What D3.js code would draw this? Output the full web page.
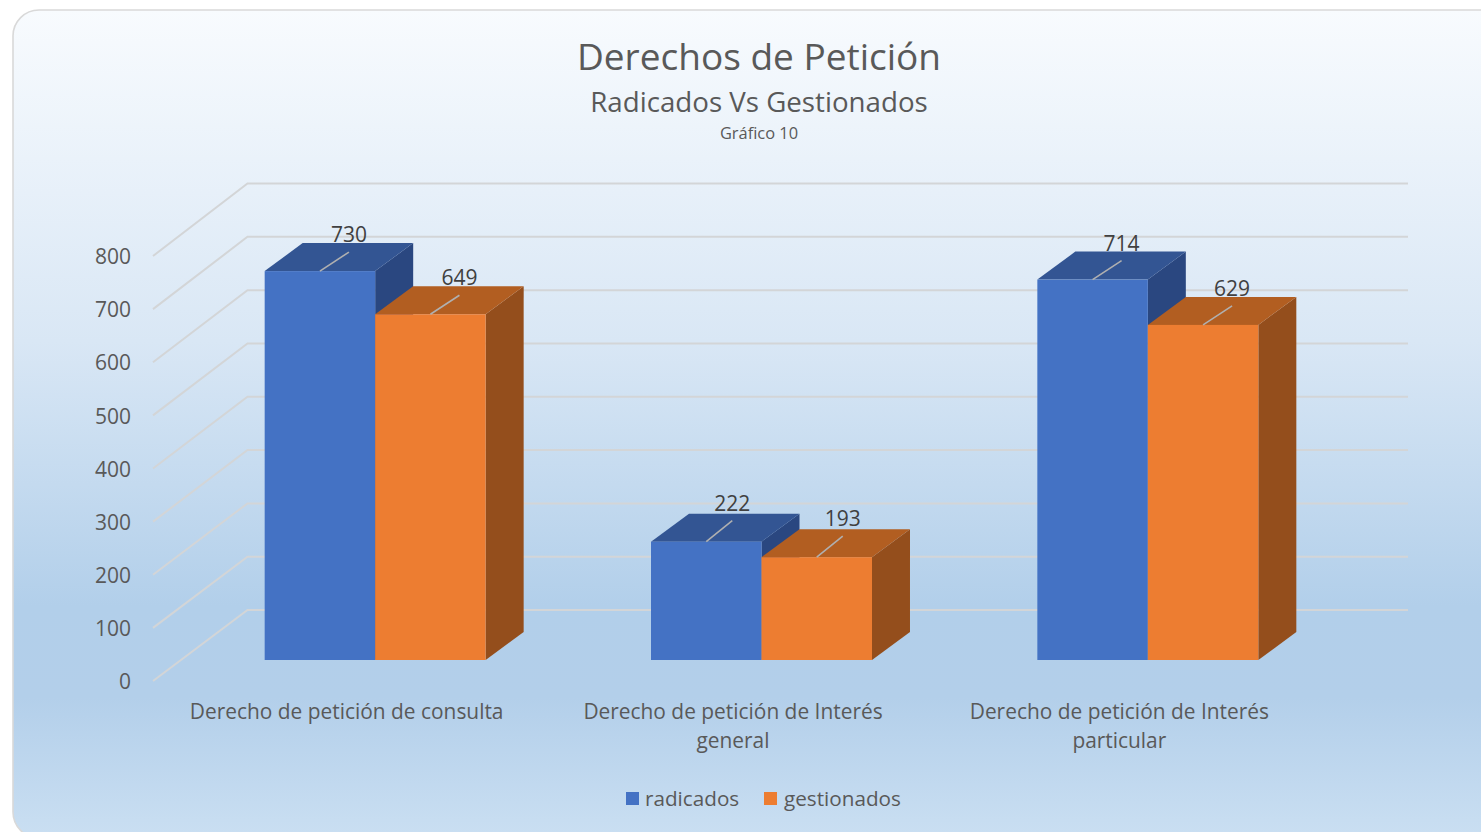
<!DOCTYPE html>
<html><head><meta charset="utf-8">
<script src="https://cdn.jsdelivr.net/npm/d3@7/dist/d3.min.js"></script>
<style>html,body{margin:0;padding:0;background:#fff;overflow:hidden}svg{display:block}text{font-family:"Open Sans","Noto Sans",sans-serif}</style>
</head><body><svg id="c" width="1481" height="832"></svg>
<script>
const categories=[["Derecho de petición de consulta"],["Derecho de petición de Interés","general"],["Derecho de petición de Interés","particular"]];
const seriesNames=["radicados","gestionados"];
const radicados=[730,222,714];
const gestionados=[649,193,629];
const ticks=[0,100,200,300,400,500,600,700,800];
const colors={radicados:{front:"#4472c4",top:"#335593",side:"#2a4780"},gestionados:{front:"#ed7d31",top:"#b25e21",side:"#944e1c"}};
const svg=d3.select("#c");
const defs=svg.append("defs");
const g=defs.append("linearGradient").attr("id","bg").attr("gradientUnits","userSpaceOnUse").attr("x1",0).attr("x2",0).attr("y1",10).attr("y2",838);
[[0,"#f8fbfe"],[.4,"#d9e7f5"],[.72,"#b2cfea"],[.83,"#b3cfea"],[1,"#cadff2"]].forEach(s=>g.append("stop").attr("offset",s[0]).attr("stop-color",s[1]));
svg.append("rect").attr("x",13).attr("y",10).attr("width",1600).attr("height",828).attr("rx",26).attr("fill","url(#bg)").attr("stroke","#d9d9d9").attr("stroke-width",1.6);
const T=(x,y,t,size,col)=>svg.append("text").attr("x",x).attr("y",y).attr("text-anchor","middle").attr("font-size",size).attr("fill",col).text(t);
T(759,70,"Derechos de Petición",37,"#595959");
T(759,112,"Radicados Vs Gestionados",27.7,"#595959");
T(759,138.5,"Gráfico 10",16.4,"#595959");
const yWall=d3.scaleLinear().domain([0,800]).range([610,183.5]);
const yLeft=d3.scaleLinear().domain([0,800]).range([681,256]);
const yFront=d3.scaleLinear().domain([0,800]).range([660,233.8]);
const grid=svg.append("g").attr("fill","none").attr("stroke","#d3d5d7").attr("stroke-width",2);
grid.selectAll("path").data(ticks).join("path").attr("d",d=>d3.line()([[153,yLeft(d)],[247.5,yWall(d)],[1408,yWall(d)]]));
const axis=svg.append("g").attr("transform","translate(131,1)").call(d3.axisLeft(yLeft).tickValues(ticks).tickSize(0).tickPadding(0).tickFormat(d3.format("d")));
axis.select(".domain").remove();
axis.selectAll("text").attr("font-size",21).attr("fill","#595959").style("font-family",'"Open Sans","Noto Sans",sans-serif');
const x0=d3.scaleBand().domain(d3.range(3)).range([182,1341]).paddingInner(.428).paddingOuter(.214);
const x1=d3.scaleBand().domain(seriesNames).range([0,x0.bandwidth()]);
const DX=38,DY=-28;
const values={radicados,gestionados};
seriesNames.forEach(name=>{
  const c=colors[name],w=x1.bandwidth();
  const grp=svg.append("g").selectAll("g").data(values[name]).join("g");
  grp.each(function(v,i){
    const s=d3.select(this),l=x0(i)+x1(name),t=yFront(v),b=yFront(0),r=l+w;
    const poly=(pts,f)=>s.append("polygon").attr("points",pts.join(" ")).attr("fill",f);
    poly([[r,t],[r+DX,t+DY],[r+DX,b+DY],[r,b]],c.side);
    poly([[l,t],[l+DX,t+DY],[r+DX,t+DY],[r,t]],c.top);
    s.append("rect").attr("x",l).attr("y",t).attr("width",w).attr("height",b-t).attr("fill",c.front);
  });
});
seriesNames.forEach(name=>{
  values[name].forEach((v,i)=>{
    const cx=x0(i)+x1(name)+x1.bandwidth()/2,t=yFront(v),lx=i===1?26:29,ly=i===1?21:19;
    svg.append("line").attr("x1",cx).attr("y1",t).attr("x2",cx+lx).attr("y2",t-ly).attr("stroke","#b0b0b0").attr("stroke-width",1.6);
    T(cx+lx,t-ly-10,v,21,"#404040");
  });
});
categories.forEach((lines,i)=>{
  const cx=x0(i)+x0.bandwidth()/2-28.5;
  lines.forEach((t,j)=>T(cx,719+j*29,t,20.9,"#595959"));
});
const leg=[[626,"radicados",19],[764,"gestionados",20]];
leg.forEach(([x,n,o])=>{
  svg.append("rect").attr("x",x).attr("y",792).attr("width",13).attr("height",13).attr("fill",colors[n].front);
  svg.append("text").attr("x",x+o).attr("y",806).attr("font-size",20.7).attr("fill","#595959").text(n);
});
</script></body></html>
